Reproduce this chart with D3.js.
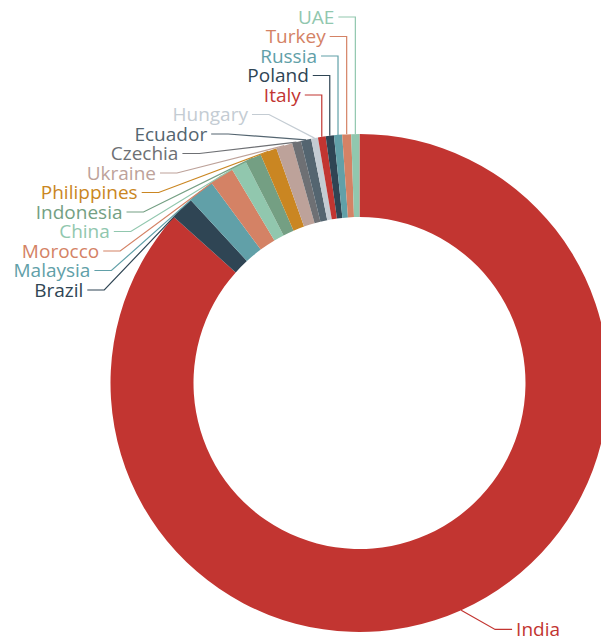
<!DOCTYPE html>
<html><head><meta charset="utf-8">
<script src="https://cdn.jsdelivr.net/npm/d3@7"></script>
<style>html,body{margin:0;padding:0;background:#fff;overflow:hidden}</style>
</head><body>
<svg id="chart" width="601" height="641"></svg>
<script>
// ---- data ----
const countries = ["India","Brazil","Malaysia","Morocco","China","Indonesia","Philippines","Ukraine","Czechia","Ecuador","Hungary","Italy","Poland","Russia","Turkey","UAE"];
const shares = [86.6,1.53,1.72,1.58,1.0,1.06,1.08,1.06,0.58,0.67,0.44,0.5,0.53,0.53,0.58,0.53];
const palette = ["#c23531","#2f4554","#61a0a8","#d48265","#91c7ae","#749f83","#ca8622","#bda29a","#6e7074","#546570","#c4ccd3"];

// ---- layout ----
const W = 601, H = 641;
const cx = 359.5, cy = 383, R = 249, r0 = 166;
const rA = 270, rB = 285;      // label ellipse
const len2 = 17, gap = 4;      // horizontal label line + text gap
const labelTop = 17, labelStep = 19.5;

const data = countries.map((c, i) => ({name: c, value: shares[i]}));
const color = d3.scaleOrdinal().domain(countries).range(palette);

const svg = d3.select("#chart");
const g = svg.append("g").attr("transform", `translate(${cx},${cy})`);

const pie = d3.pie().sort(null).value(d => d.value).startAngle(0).endAngle(2 * Math.PI);
const arcs = pie(data);
const arc = d3.arc().innerRadius(r0).outerRadius(R);

g.selectAll("path.slice").data(arcs).join("path")
  .attr("class", "slice")
  .attr("d", arc)
  .attr("fill", d => color(d.data.name));

// ---- labels ----
arcs.forEach(d => {
  d.mid = (d.startAngle + d.endAngle) / 2;
  d.side = Math.sin(d.mid) >= 0 ? 1 : -1;
  d.ax = Math.sin(d.mid) * R;
  d.ay = -Math.cos(d.mid) * R;
  d.ly = -Math.cos(d.mid) * rA;
});
// stack left-side labels from the top (closest to 12 o'clock first)
const left = arcs.filter(d => d.side < 0).sort((a, b) => b.mid - a.mid);
left.forEach((d, k) => { d.ly = (labelTop - cy) + k * labelStep; });

arcs.forEach(d => {
  const dy = Math.abs(d.ly);
  let ex;
  if (dy < rB) ex = d.side * rA * Math.sqrt(1 - (dy * dy) / (rB * rB));
  else ex = d.ax;
  if (d.side < 0) ex = Math.min(ex, d.ax); else ex = Math.max(ex, d.ax);
  d.ex = ex;
  d.tx = ex + d.side * len2;
});

const col = d => color(d.data.name);
g.selectAll("polyline.lbl").data(arcs).join("polyline")
  .attr("class", "lbl")
  .attr("points", d => [[d.ax, d.ay], [d.ex, d.ly], [d.tx, d.ly]].join(" "))
  .attr("fill", "none")
  .attr("stroke", col)
  .attr("stroke-width", 1.2);

g.selectAll("text.lbl").data(arcs).join("text")
  .attr("class", "lbl")
  .attr("x", d => d.tx + d.side * gap)
  .attr("y", d => d.ly)
  .attr("dy", "0.36em")
  .attr("text-anchor", d => d.side < 0 ? "end" : "start")
  .attr("fill", col)
  .style("font-family", "'Open Sans', 'Noto Sans', sans-serif")
  .style("font-size", "19px")
  .text(d => d.data.name);
</script>
</body></html>
